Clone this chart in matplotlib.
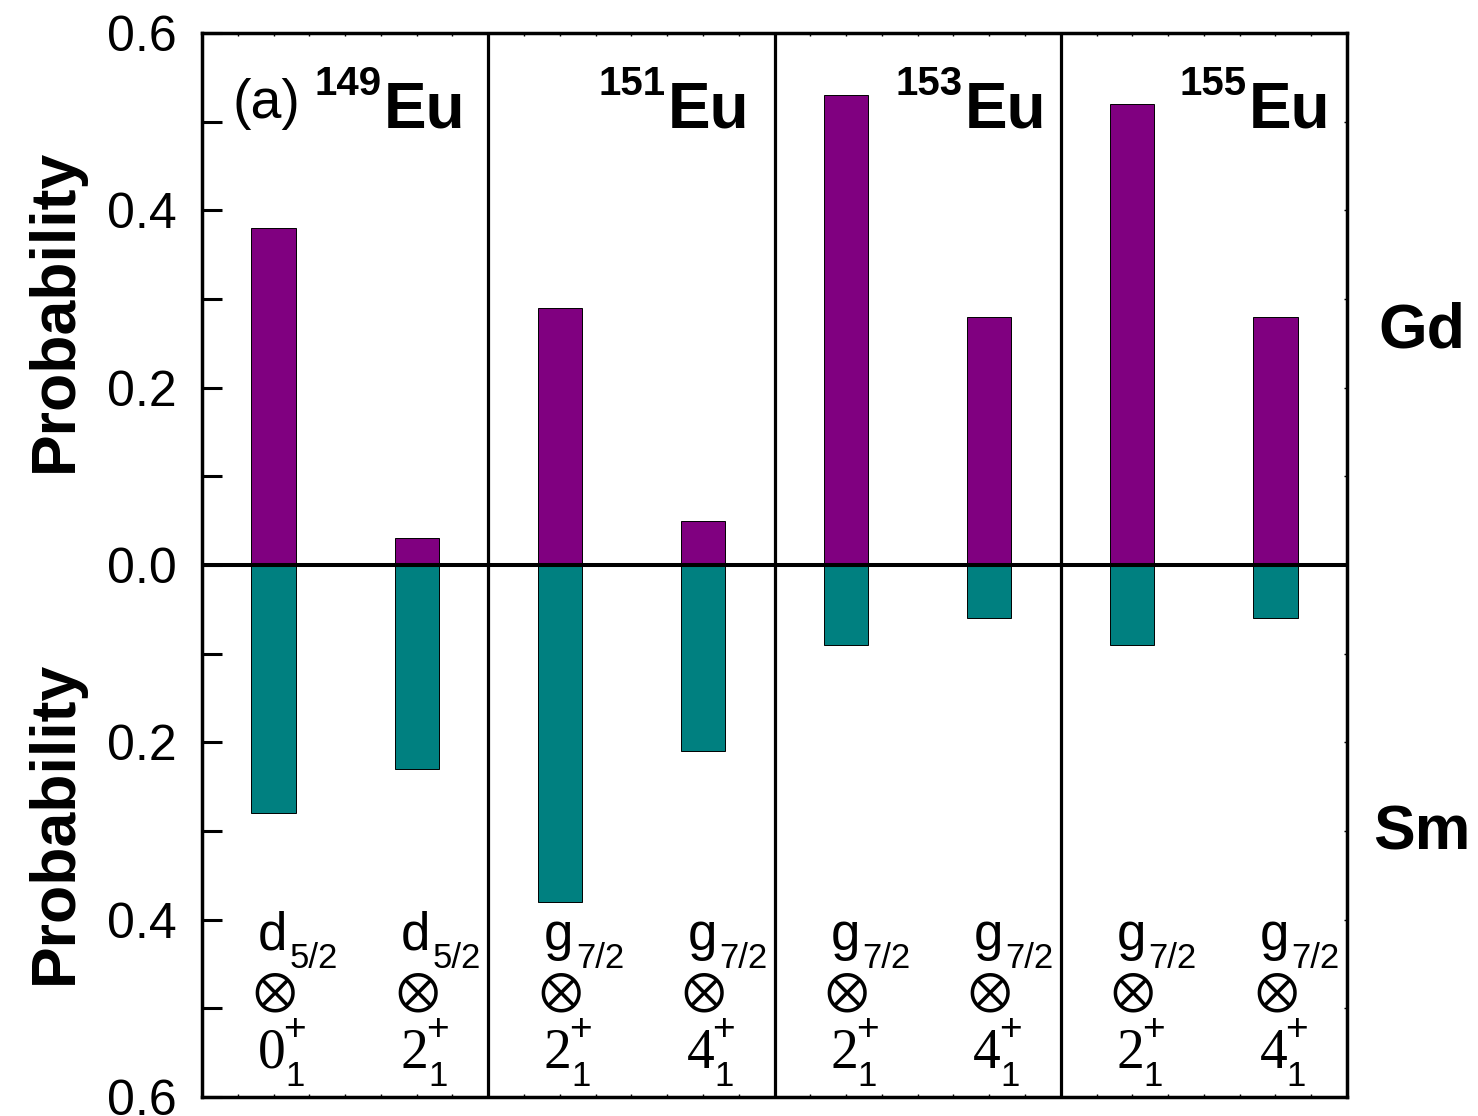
import numpy as np
import matplotlib
matplotlib.use("Agg")
import matplotlib.pyplot as plt
from matplotlib.ticker import MultipleLocator, FuncFormatter

# Isotopes (one panel each) and their two configurations
isotopes = ["149", "151", "153", "155"]
gd_prob = [0.38, 0.03, 0.29, 0.05, 0.53, 0.28, 0.52, 0.28]
sm_prob = [0.28, 0.23, 0.38, 0.21, 0.09, 0.06, 0.09, 0.06]
orbital = ["d", "d", "g", "g", "g", "g", "g", "g"]
orbital_j = ["5/2", "5/2", "7/2", "7/2", "7/2", "7/2", "7/2", "7/2"]
core_spin = ["0", "2", "2", "4", "2", "4", "2", "4"]
ytick_vals = [-0.6, -0.4, -0.2, 0.0, 0.2, 0.4, 0.6]

W, H, DPI = 1478, 1116, 100
SANS = "Liberation Sans"
SERIF = "Liberation Serif"
PURPLE = "#800080"
TEAL = "#008080"
# gap (px) between each panel title and the panel's right border
title_gap = [23, 25, 14, 17]

plt.rcParams["font.family"] = [SANS, "DejaVu Sans"]

fig = plt.figure(figsize=(W / DPI, H / DPI), dpi=DPI)
ax = fig.add_axes([202 / W, 19 / H, 1145 / W, 1064 / H])

n_panels = len(isotopes)
x = np.array([p * 2 + o for p in range(n_panels) for o in (0.5, 1.5)])
bw = 0.31

ax.bar(x, gd_prob, width=bw, color=PURPLE, edgecolor="black", linewidth=0.7, zorder=2)
ax.bar(x, [-v for v in sm_prob], width=bw, color=TEAL, edgecolor="black", linewidth=0.7, zorder=2)

ax.set_xlim(0, 2 * n_panels)
ax.set_ylim(-0.6, 0.6)
ax.axhline(0, color="black", lw=2.9, zorder=3)
for p in range(1, n_panels):
    ax.axvline(2 * p, color="black", lw=2.3, zorder=3)

for s in ax.spines.values():
    s.set_linewidth(2.5)

# y axis: absolute values on both halves
ax.set_yticks(ytick_vals)
ax.yaxis.set_major_formatter(FuncFormatter(lambda v, _: f"{abs(v):.1f}"))
ax.yaxis.set_minor_locator(MultipleLocator(0.1))
ax.tick_params(axis="y", which="both", direction="in", length=14.4, width=2.2,
               labelsize=36, pad=18)
# small ticks along top and bottom
ax.set_xticks(np.arange(0, 2 * n_panels + 0.01, 0.25))
ax.set_xticklabels([])
ax.tick_params(axis="x", which="both", direction="in", length=2.5, width=1.0,
               top=True, bottom=True)
for t in ax.get_yticklabels():
    t.set_fontfamily(SANS)

# right axis with small ticks
axr = ax.twinx()
axr.set_ylim(-0.6, 0.6)
axr.yaxis.set_major_locator(MultipleLocator(0.1))
axr.tick_params(axis="y", direction="in", length=2.5, width=1.0, labelright=False)
for s in axr.spines.values():
    s.set_visible(False)


def place(xd, dx_px, y_img, s, **kw):
    ax.annotate(s, xy=(xd, 1 - y_img / H), xycoords=("data", "figure fraction"),
                xytext=(dx_px * 72 / DPI, 0), textcoords="offset points",
                annotation_clip=False, **kw)


def place_px(x_img, y_img, s, **kw):
    fig.text(x_img / W, 1 - y_img / H, s, **kw)


# Panel titles
place_px(232, 118, "(a)", fontsize=40, family=SANS, ha="left", va="baseline")
fig.canvas.draw()
renderer = fig.canvas.get_renderer()
for p, iso in enumerate(isotopes):
    right_x = 2 * (p + 1)
    eu = ax.annotate("Eu", xy=(right_x, 1 - 128 / H), xycoords=("data", "figure fraction"),
                     xytext=(-title_gap[p] * 72 / DPI, 0), textcoords="offset points",
                     fontsize=46, fontweight="bold", family=SANS,
                     ha="right", va="baseline", annotation_clip=False)
    bb = eu.get_window_extent(renderer=renderer)
    fig.text((bb.x0 - 2) / W, 1 - 95 / H, iso, fontsize=29, fontweight="bold",
             family=SANS, ha="right", va="baseline")

# Configuration labels below the bars
for xi, orb, j, core in zip(x, orbital, orbital_j, core_spin):
    place(xi, -1, 950, orb, fontsize=38, family=SANS, ha="center", va="baseline")
    place(xi, 16, 968, j, fontsize=25, family=SANS, ha="left", va="baseline")
    place(xi, 0, 992, r"$\otimes$", fontsize=38, math_fontfamily="stix",
          ha="center", va="center")
    place(xi, -2, 1068, core, fontsize=40, family=SERIF, ha="center", va="baseline")
    place(xi, 21, 1030, "+", fontsize=28, family=SANS, ha="center", va="center")
    place(xi, 21, 1086, "1", fontsize=25, family=SANS, ha="center", va="baseline")

# Axis titles for the two halves
for yc in (310, 822):
    fig.text(72 / W, 1 - yc / H, "Probability", rotation=90, rotation_mode="anchor",
             fontsize=45, fontweight="bold", family=SANS, ha="center", va="baseline")

# Element labels on the right
place_px(1378, 347, "Gd", fontsize=45, fontweight="bold", family=SANS, ha="left", va="baseline")
place_px(1373, 849, "Sm", fontsize=45, fontweight="bold", family=SANS, ha="left", va="baseline")

fig.savefig("out.png", dpi=DPI)
